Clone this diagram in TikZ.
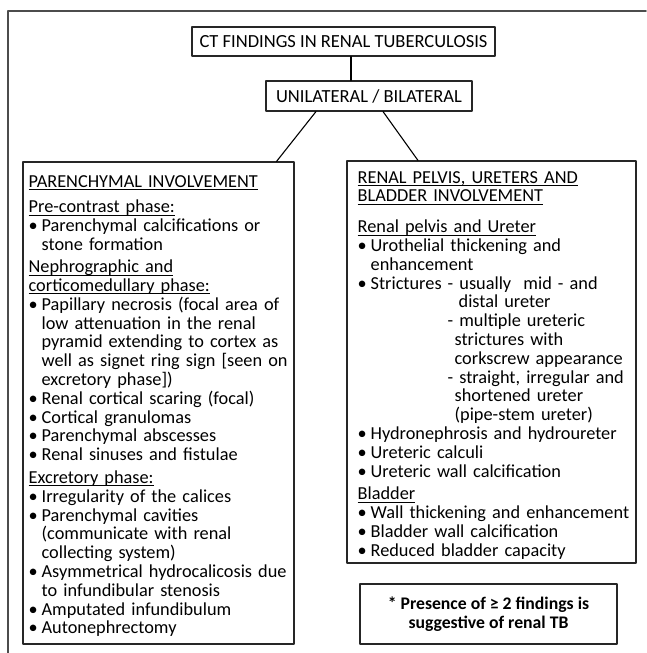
\documentclass[tikz,border=0pt]{standalone}
\usepackage{fontspec}
\setmainfont{Carlito}
\usetikzlibrary{positioning}
\newcommand{\bl}{\makebox[13pt][l]{\textbullet}}
\newcommand{\cn}{\hspace*{13pt}}
\newcommand{\hdr}[1]{\leavevmode\setbox0=\hbox{#1}\rlap{\rule[-2.8pt]{\wd0}{0.9pt}}\box0}
\tikzset{
  frame/.style={draw=black!70, line width=1.6pt},
  box/.style={draw=black!85, line width=1.1pt, inner sep=0pt},
  head/.style={box, font=\fontsize{18.5}{19}\selectfont},
  txt/.style={inner sep=0pt, align=left, text width=300pt, anchor=north west,
    font=\fontsize{18.3}{18.8}\selectfont},
  link/.style={draw=black, line width=1.1pt}
}
\begin{document}
\begin{tikzpicture}[x=1pt, y=-1pt, line cap=round, line join=round]
\useasboundingbox (0,0) rectangle (646,653);
\draw[frame] (8,653) |- (646,11);
% top of the tree
\node[head, minimum width=303pt, minimum height=29pt] (ttl) at (343.5,41.5) {CT FINDINGS IN RENAL TUBERCULOSIS};
\node[head, minimum width=206pt, minimum height=30pt] (uni) at (369,96) {UNILATERAL / BILATERAL};
% the two branches
\node[box, minimum width=271pt, minimum height=482pt] (par) at (158.5,403) {};
\node[box, minimum width=289pt, minimum height=402pt] (pel) at (491.5,362) {};
\node[box, minimum width=257pt, minimum height=60pt, align=center,
  font=\fontsize{17.7}{19}\selectfont\bfseries] (note) at (488.5,614)
  {* Presence of ≥ 2 findings is\\suggestive of renal TB};
\draw[link] ([xshift=7.5pt]ttl.south) -- ([xshift=7.5pt]ttl.south |- uni.north);
\draw[link] ([xshift=-53pt]uni.south) -- ([xshift=118pt]par.north);
\draw[link] ([xshift=14pt]uni.south) -- ([xshift=-73.5pt]pel.north);
\node[txt] (partxt) at ([xshift=6pt, yshift=-13.5pt]par.north west) {%
\hdr{PARENCHYMAL INVOLVEMENT}\\[7pt]
\hdr{Pre-contrast phase:}\\
\bl Parenchymal calcifications or\\
\cn stone formation\\[3.5pt]
\hdr{Nephrographic and}\\
\hdr{corticomedullary phase:}\\
\bl Papillary necrosis (focal area of\\
\cn low attenuation in the renal\\
\cn pyramid extending to cortex as\\
\cn well as signet ring sign [seen on\\
\cn excretory phase])\\
\bl Renal cortical scaring (focal)\\
\bl Cortical granulomas\\
\bl Parenchymal abscesses\\
\bl Renal sinuses and fistulae\\[4pt]
\hdr{Excretory phase:}\\
\bl Irregularity of the calices\\
\bl Parenchymal cavities\\
\cn (communicate with renal\\
\cn collecting system)\\
\bl Asymmetrical hydrocalicosis due\\
\cn to infundibular stenosis\\
\bl Amputated infundibulum\\
\bl Autonephrectomy};
\node[txt] (peltxt) at ([xshift=11pt, yshift=-10.5pt]pel.north west) {%
\hdr{RENAL PELVIS, URETERS AND}\\
\hdr{BLADDER INVOLVEMENT}\\[12pt]
\hdr{Renal pelvis and Ureter}\\
\bl Urothelial thickening and\\
\cn enhancement\\
\bl Strictures - usually\ \ mid - and\\
\hspace*{101pt}distal ureter\\
\hspace*{90pt}- multiple ureteric\\
\hspace*{97pt}strictures with\\
\hspace*{97pt}corkscrew appearance\\
\hspace*{90pt}- straight, irregular and\\
\hspace*{97pt}shortened ureter\\
\hspace*{97pt}(pipe-stem ureter)\\
\bl Hydronephrosis and hydroureter\\
\bl Ureteric calculi\\
\bl Ureteric wall calcification\\[4pt]
\hdr{Bladder}\\
\bl Wall thickening and enhancement\\
\bl Bladder wall calcification\\
\bl Reduced bladder capacity};
\end{tikzpicture}
\end{document}
